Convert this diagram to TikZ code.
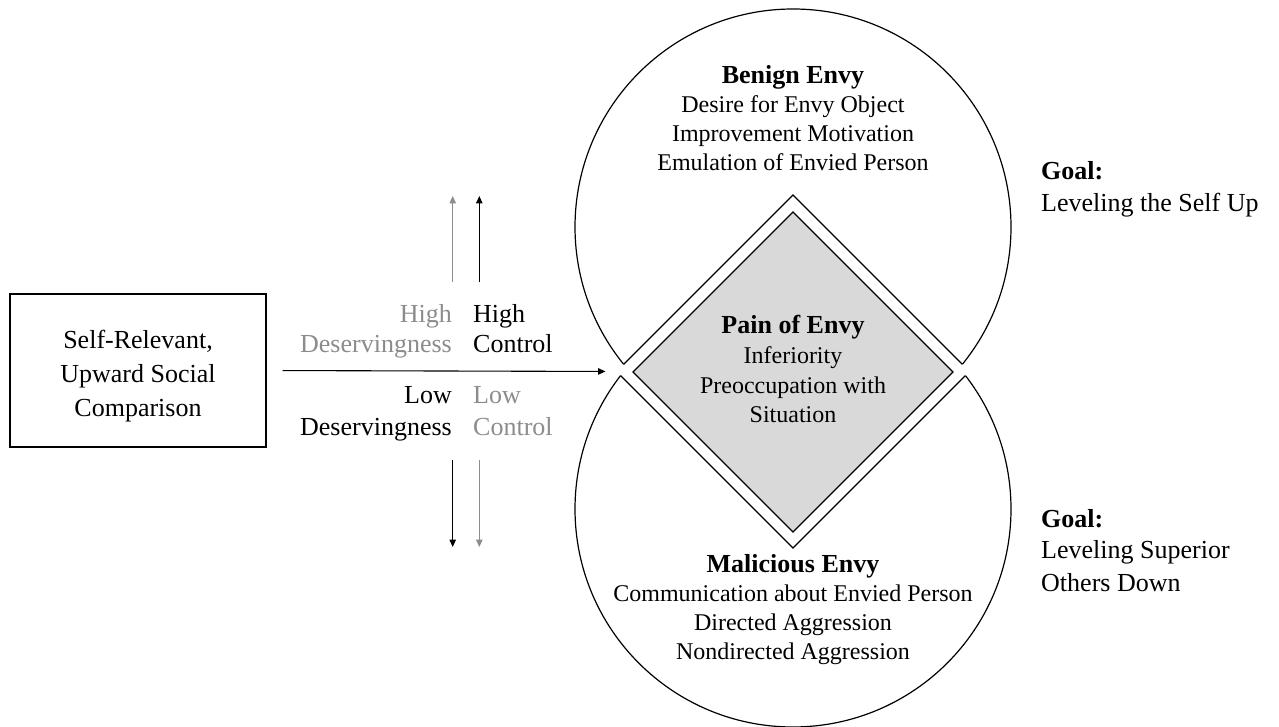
\documentclass[tikz,border=0pt]{standalone}
\usepackage{fontspec}
\setmainfont{Liberation Serif}
\usetikzlibrary{arrows.meta}
\definecolor{lightink}{RGB}{140,140,140}
\definecolor{painfill}{RGB}{217,217,217}

\begin{document}
\begin{tikzpicture}[x=1pt,y=-1pt,
  bodyline/.style={inner sep=0pt, anchor=base, font=\fontsize{24}{29}\selectfont},
  headline/.style={inner sep=0pt, anchor=base, font=\fontsize{26}{30}\selectfont\bfseries},
  cueline/.style={inner sep=0pt, font=\fontsize{26}{31}\selectfont},
  ring/.style={line width=1.2pt},
  arr/.style={line width=1.1pt, -{Triangle[length=7.5pt,width=6.5pt]}},
]
\useasboundingbox (0,0) rectangle (1279,727);

% circle centres and the two diamonds
\def\rr{218pt}
\coordinate (ct) at (793,227);
\coordinate (cb) at (793,509);
\coordinate (dt) at (793,195);
\coordinate (dr) at (969.5,371.5);
\coordinate (db) at (793,548);
\coordinate (dl) at (616.5,371.5);
\coordinate (it) at (793,212);
\coordinate (ir) at (953,372);
\coordinate (ib) at (793,532);
\coordinate (il) at (633,372);

% the two envy circles, cut open by the outer diamond
\draw[ring] (ct) circle[radius=\rr];
\draw[ring] (cb) circle[radius=\rr];
\fill[white] (dt) -- (dr) -- (db) -- (dl) -- cycle;
\begin{scope}
  \clip (ct) circle[radius=\rr];
  \draw[ring] (dt) -- (dr) -- (db) -- (dl) -- cycle;
\end{scope}
\begin{scope}
  \clip (cb) circle[radius=\rr];
  \draw[ring] (dt) -- (dr) -- (db) -- (dl) -- cycle;
\end{scope}

% pain of envy
\draw[ring, fill=painfill] (it) -- (ir) -- (ib) -- (il) -- cycle;
\node[headline] (p0) at (793,333) {Pain of Envy};
\node[bodyline] (p1) at (793,363) {Inferiority};
\node[bodyline] (p2) at (793,393) {Preoccupation with};
\node[bodyline] (p3) at (793,422) {Situation};

% benign envy
\node[headline] (b0) at (793,84) {Benign Envy};
\node[bodyline] (b1) at (793,113) {Desire for Envy Object};
\node[bodyline] (b2) at (793,142) {Improvement Motivation};
\node[bodyline] (b3) at (793,171) {Emulation of Envied Person};

% malicious envy
\node[headline] (m0) at (793,572) {Malicious Envy};
\node[bodyline] (m1) at (793,601) {Communication about Envied Person};
\node[bodyline] (m2) at (793,630) {Directed Aggression};
\node[bodyline] (m3) at (793,659) {Nondirected Aggression};

% goals
\node[headline, anchor=base west] (g1) at (1041,180) {Goal:};
\node[cueline, anchor=base west] (g1a) at (1041,212) {Leveling the Self Up};
\node[headline, anchor=base west] (g2) at (1041,527) {Goal:};
\node[cueline, anchor=base west] (g2a) at (1041,558) {Leveling Superior};
\node[cueline, anchor=base west] (g2b) at (1041,591) {Others Down};

% comparison box
\node[draw, line width=1.1pt, minimum width=256pt, minimum height=153pt, inner sep=0pt]
  (cmp) at (138,370.5) {};
\node[cueline, anchor=base] (c1) at (138,348) {Self-Relevant,};
\node[cueline, anchor=base] (c2) at (138,382) {Upward Social};
\node[cueline, anchor=base] (c3) at (138,416) {Comparison};

% deservingness and control cues
\node[cueline, anchor=base east, text=lightink] (hd1) at (452,322) {High};
\node[cueline, anchor=base east, text=lightink] (hd2) at (452,352) {Deservingness};
\node[cueline, anchor=base west] (hc1) at (473,322) {High};
\node[cueline, anchor=base west] (hc2) at (473,352) {Control};
\node[cueline, anchor=base east] (ld1) at (452,403) {Low};
\node[cueline, anchor=base east] (ld2) at (452,435) {Deservingness};
\node[cueline, anchor=base west, text=lightink] (lc1) at (473,403) {Low};
\node[cueline, anchor=base west, text=lightink] (lc2) at (473,435) {Control};

% arrows
\coordinate (gu0) at (452.7,282);
\coordinate (gu1) at (452.7,196);
\coordinate (ku0) at (479.3,282);
\coordinate (ku1) at (479.3,196);
\coordinate (kd0) at (452.7,460);
\coordinate (kd1) at (452.7,547);
\coordinate (gd0) at (479.3,460);
\coordinate (gd1) at (479.3,547);
\draw[arr, lightink] (gu0) -- (gu1);
\draw[arr] (ku0) -- (ku1);
\draw[arr] (kd0) -- (kd1);
\draw[arr, lightink] (gd0) -- (gd1);
\draw[arr, shorten <=16pt, shorten >=11pt] (cmp.east) -- (dl);
\end{tikzpicture}
\end{document}
